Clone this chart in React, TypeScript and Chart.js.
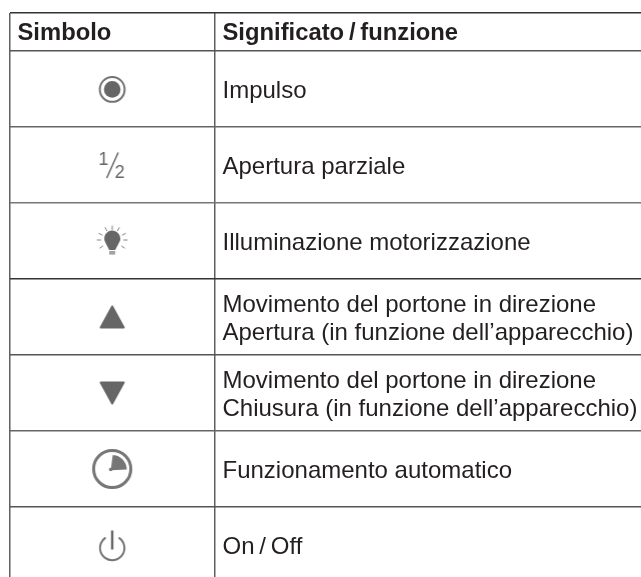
import React, { useEffect, useRef } from "react";
import { Chart, registerables } from "chart.js";

Chart.register(...registerables);

const columnEdges = [0, 1];
const rowEdges = [-0.5, 0, 1, 2, 3, 4, 5, 6];
const headers = ["Simbolo", "Significato\u2009/\u2009funzione"];
const meanings = [
  ["Impulso"],
  ["Apertura parziale"],
  ["Illuminazione motorizzazione"],
  ["Movimento del portone in direzione", "Apertura (in funzione dell\u2019apparecchio)"],
  ["Movimento del portone in direzione", "Chiusura (in funzione dell\u2019apparecchio)"],
  ["Funzionamento automatico"],
  ["On\u2009/\u2009Off"],
];
const symbols = ["pulse", "half", "bulb", "up", "down", "clock", "power"];

const FONT = '"Liberation Sans", Arial, sans-serif';
const ICON = "#656665";
const ROW_LINE_COLORS = ["#333333", "#555555", "#666666", "#777777", "#333333", "#555555", "#666666", "#555555"];

function makeIcon(kind: string): HTMLCanvasElement {
  const s = 60;
  const c = document.createElement("canvas");
  c.width = s;
  c.height = s;
  const g = c.getContext("2d")!;
  g.translate(s / 2, s / 2);
  g.strokeStyle = ICON;
  g.fillStyle = ICON;
  g.lineCap = "round";
  g.lineJoin = "round";
  if (kind === "pulse") {
    g.strokeStyle = "#707170";
    g.lineWidth = 2;
    g.beginPath(); g.arc(0, 0.4, 12.4, 0, Math.PI * 2); g.stroke();
    g.beginPath(); g.arc(0, 0.4, 8.3, 0, Math.PI * 2); g.fill();
  } else if (kind === "half") {
    g.font = `18px ${FONT}`;
    g.textAlign = "center";
    g.fillText("1", -8.7, -0.5);
    g.fillText("2", 7.5, 12.5);
    g.lineWidth = 1.5;
    g.lineCap = "butt";
    g.beginPath(); g.moveTo(-5.5, 13); g.lineTo(6, -12.5); g.stroke();
  } else if (kind === "bulb") {
    g.beginPath();
    g.arc(0, -2.5, 8, Math.PI * 0.82, Math.PI * 0.18);
    g.lineTo(3, 9); g.lineTo(-3, 9); g.closePath(); g.fill();
    g.globalAlpha = 0.6;
    g.fillRect(-3, 10, 6, 3.6);
    g.globalAlpha = 1;
    g.strokeStyle = "#808180";
    g.lineWidth = 1;
    [-90, -62, -118, -28, -152, 0, 180, 35, 145].forEach((a) => {
      const r = (a * Math.PI) / 180;
      g.beginPath();
      g.moveTo(Math.cos(r) * 11.5, -1 + Math.sin(r) * 10.5);
      g.lineTo(Math.cos(r) * 15, -1 + Math.sin(r) * 14);
      g.stroke();
    });
  } else if (kind === "up" || kind === "down") {
    const d = kind === "up" ? 1 : -1;
    g.lineWidth = 2;
    g.beginPath();
    g.moveTo(0, -10.5 * d);
    g.lineTo(11.5, 10.5 * d);
    g.lineTo(-11.5, 10.5 * d);
    g.closePath();
    g.fill();
    g.stroke();
  } else if (kind === "clock") {
    g.strokeStyle = "#757675";
    g.fillStyle = "#757675";
    g.lineWidth = 3;
    g.beginPath(); g.arc(0, 0, 18.6, 0, Math.PI * 2); g.stroke();
    g.beginPath();
    g.moveTo(-1.5, 1.2);
    g.lineTo(0.5, -14);
    g.arc(0, 0.5, 14.5, -Math.PI / 2, 0);
    g.closePath(); g.fill();
    g.beginPath(); g.arc(-1.5, 0.5, 1.8, 0, Math.PI * 2); g.fill();
  } else if (kind === "power") {
    g.translate(0, 3);
    g.strokeStyle = "#757675";
    g.lineWidth = 2;
    g.beginPath(); g.arc(0, 0, 12.2, -Math.PI * 0.3, -Math.PI * 0.7); g.stroke();
    g.strokeStyle = ICON;
    g.lineWidth = 2.4;
    g.lineCap = "butt";
    g.beginPath(); g.moveTo(0, -17.5); g.lineTo(0, 1.5); g.stroke();
  }
  return c;
}

const textPlugin = {
  id: "tableText",
  afterDatasetsDraw(chart: any) {
    const { ctx, scales } = chart;
    const xs = scales.x;
    const ys = scales.y;
    ctx.save();
    ctx.textAlign = "left";
    ctx.textBaseline = "alphabetic";
    ctx.fillStyle = "#231f20";
    ctx.font = `bold 23.8px ${FONT}`;
    const headBase = ys.getPixelForValue(-0.25) + 8;
    ctx.fillText(headers[0], xs.getPixelForValue(0) + 7.5, headBase);
    ctx.fillText(headers[1], xs.getPixelForValue(1) + 8, headBase);
    ctx.font = `24px ${FONT}`;
    meanings.forEach((lines, i) => {
      const mid = ys.getPixelForValue(i + 0.5);
      lines.forEach((t, k) => {
        const off = lines.length === 1 ? 9 : k === 0 ? -5.5 : 22.5;
        ctx.fillText(t, xs.getPixelForValue(1) + 8, mid + off);
      });
    });
    ctx.restore();
  },
};

export default function App() {
  const ref = useRef<HTMLCanvasElement>(null);
  useEffect(() => {
    document.body.style.margin = "0";
    document.body.style.background = "#fff";
    const chart = new Chart(ref.current!, {
      type: "scatter",
      data: {
        datasets: [
          {
            data: symbols.map((_, i) => ({ x: 0.5, y: i + 0.5 })),
            pointStyle: symbols.map(makeIcon) as any,
            pointRadius: 30,
          },
        ],
      },
      options: {
        responsive: false,
        animation: false,
        layout: { autoPadding: false, padding: { left: 10, top: 13, right: 0, bottom: 0 } },
        plugins: { legend: { display: false }, tooltip: { enabled: false } },
        scales: {
          x: {
            type: "linear",
            min: 0,
            max: 631 / 204.5,
            afterBuildTicks: (a: any) => { a.ticks = columnEdges.map((value) => ({ value })); },
            ticks: { display: false },
            border: { display: false },
            grid: { color: "#606060", lineWidth: 1.5, drawTicks: false },
          },
          y: {
            type: "linear",
            reverse: true,
            min: -0.5,
            max: 526 / 76,
            afterBuildTicks: (a: any) => { a.ticks = rowEdges.map((value) => ({ value })); },
            ticks: { display: false },
            border: { display: false },
            grid: { color: ROW_LINE_COLORS, lineWidth: 1.4, drawTicks: false },
          },
        },
      },
      plugins: [textPlugin],
    } as any);
    return () => chart.destroy();
  }, []);
  return <canvas ref={ref} width={641} height={577} style={{ display: "block" }} />;
}
